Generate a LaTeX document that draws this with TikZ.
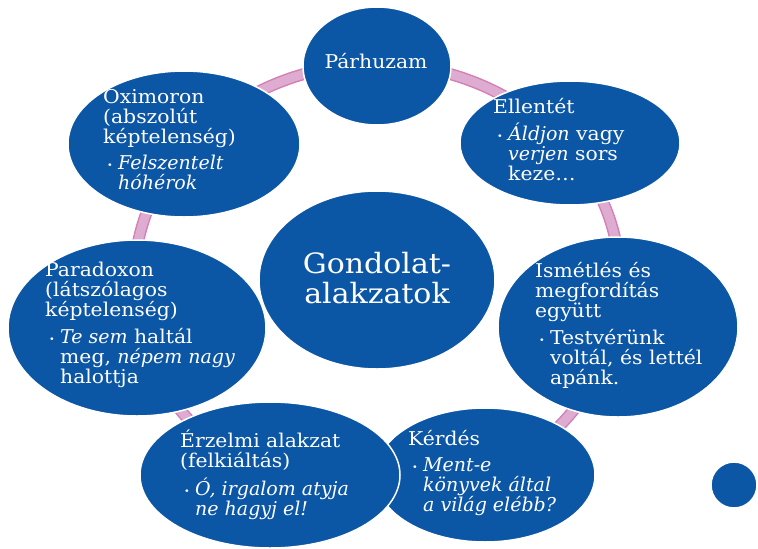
\documentclass[tikz,border=0pt]{standalone}
\usepackage{fontspec}
\setmainfont{DejaVu Serif}[UprightFeatures={FakeStretch=1.07}]
\usetikzlibrary{shapes.geometric}
\definecolor{blobblue}{RGB}{12,86,166}
\definecolor{ringpink}{RGB}{222,172,208}
\definecolor{ringedge}{RGB}{212,128,182}
\newcommand{\bul}{\makebox[15pt][l]{\hspace{4pt}\raisebox{1pt}{\small\textbullet}}}
\newcommand{\ind}{\hspace*{15pt}}
\tikzset{
	blob/.style={ellipse,fill=blobblue,draw=white,line width=1.5pt,inner sep=0pt},
	txt/.style={text=white,align=left,inner sep=0pt,anchor=north west,font=\fontsize{19}{20}\selectfont,execute at begin node=\rule{0pt}{18pt}},
}
\begin{document}
\begin{tikzpicture}[x=1pt,y=-1pt]
		\useasboundingbox (0,0) rectangle (758,549);
		\node[blob,minimum width=236,minimum height=178] (core) at (377,280) {};
		\draw[ringedge,line width=12pt] ([yshift=-2pt]core.center) ellipse [x radius=243,y radius=218];
		\draw[ringpink,line width=9pt] ([yshift=-2pt]core.center) ellipse [x radius=243,y radius=218];
		\node[blob,minimum width=148,minimum height=118] (par) at (377,66) {};
		\node[blob,minimum width=232,minimum height=146] (oxi) at (184,144) {};
		\node[blob,minimum width=220,minimum height=124] (ell) at (570,143) {};
		\node[blob,minimum width=240,minimum height=180] (ism) at (618,327) {};
		\node[blob,minimum width=258,minimum height=176] (pdx) at (137,328) {};
		\node[blob,minimum width=220,minimum height=134] (ker) at (485,475) {};
		\node[blob,minimum width=260,minimum height=146] (erz) at (270,475) {};
		\node[blob,minimum size=46] (dot) at (734,485) {};
		\node[txt,anchor=base,align=center,font=\fontsize{28}{30}\selectfont,execute at begin node={}] (coretxt) at (377,303) {Gondolat-\\alakzatok};
		\node[txt,anchor=base,execute at begin node={}] (partxt) at (376,68) {Párhuzam};
		\node[txt] (oxitxt) at (103,89) {Oximoron\\(abszolút\\képtelenség)\\[6pt]\bul\emph{Felszentelt}\\\ind\emph{hóhérok}};
		\node[txt] (elltxt) at (493,98) {Ellentét\\[7pt]\bul\emph{Áldjon} vagy\\\ind\emph{verjen} sors\\\ind keze\ldots};
		\node[txt] (ismtxt) at (535,262) {Ismétlés és\\megfordítás\\együtt\\[7pt]\bul Testvérünk\\\ind voltál, és lettél\\\ind apánk.};
		\node[txt] (pdxtxt) at (45,262) {Paradoxon\\(látszólagos\\képtelenség)\\[7pt]\bul\emph{Te sem} haltál\\\ind meg, \emph{népem nagy}\\\ind halottja};
		\node[txt] (erztxt) at (180,430) {Érzelmi alakzat\\(felkiáltás)\\[6pt]\bul\emph{Ó, irgalom atyja}\\\ind\emph{ne hagyj el!}};
		\node[txt] (kertxt) at (408,430) {Kérdés\\[6pt]\bul\emph{Ment-e}\\\ind\emph{könyvek által}\\\ind\emph{a világ elébb?}};
	\end{tikzpicture}
\end{document}
